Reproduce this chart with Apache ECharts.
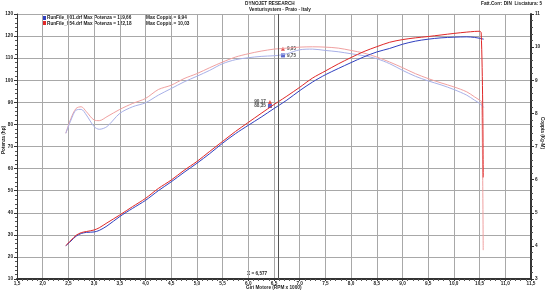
<!DOCTYPE html>
<html><head><meta charset="utf-8">
<script src="https://cdn.jsdelivr.net/npm/echarts@6/dist/echarts.min.js"></script>
<style>html,body{margin:0;padding:0;background:#fff}#c{width:546px;height:291px}</style>
</head><body><div id="c"></div>
<script>
// RPM x 1000 (shared sampling)
const rpm = [2.45,2.55,2.65,2.75,2.85,3.0,3.1,3.25,3.5,3.75,4.0,4.25,4.5,4.75,5.0,5.25,5.5,5.75,6.0,6.25,6.5,6.577,6.75,7.0,7.25,7.5,7.75,8.0,8.25,8.5,8.75,9.0,9.25,9.5,9.75,10.0,10.25,10.4,10.5];
// RunFile_054 (red)
const powerRed  = [25.2,27.5,29.8,31.0,31.5,32.2,33.2,35.4,39.0,42.8,46.5,51.0,54.8,59.2,63.2,67.8,72.3,76.8,80.9,85.0,89.0,90.17,92.8,96.8,101.0,104.2,107.4,110.3,113.0,115.2,117.2,118.4,119.2,119.8,120.5,121.2,121.8,122.1,122.18];
const torqueRed = [7.40,7.85,8.15,8.20,8.05,7.80,7.78,7.90,8.12,8.30,8.45,8.72,8.85,9.05,9.20,9.38,9.55,9.70,9.80,9.88,9.94,9.95,9.97,10.00,10.01,10.00,9.97,9.90,9.82,9.70,9.55,9.38,9.20,9.05,8.92,8.80,8.65,8.50,8.40];
const powerRedTailRpm  = [10.53,10.56,10.57];
const powerRedTail     = [121.6,90,56];
const torqueRedTailRpm = [10.54,10.57];
const torqueRedTail    = [8.35,3.87];
// RunFile_001 (blue)
const powerBlue  = [25.0,27.2,29.4,30.6,31.1,31.3,32.0,34.0,38.3,42.0,45.6,50.0,54.0,58.3,62.4,66.8,71.5,75.8,79.6,83.3,87.2,88.35,91.0,95.3,99.2,102.5,105.3,108.0,110.6,112.8,114.4,116.3,117.7,118.6,119.2,119.5,119.66,119.4,119.0];
const torqueBlue = [7.40,7.80,8.10,8.12,7.95,7.60,7.52,7.60,8.00,8.20,8.32,8.55,8.75,8.95,9.12,9.30,9.50,9.62,9.68,9.72,9.74,9.75,9.80,9.92,9.94,9.90,9.86,9.80,9.74,9.65,9.50,9.30,9.12,8.98,8.86,8.72,8.55,8.40,8.30];
const blueTailRpm = [10.58];
const powerBlueTail = [118.6];
const torqueBlueTail = [8.18];
// cursor
const cursorRpm = 6.577;
const cursorPower = [90.17, 88.35];
const cursorTorque = [9.95, 9.75];
// axis ticks
const xTicks = {min:1.5, max:11.5, step:0.5};
const hpTicks = {min:10, max:130, step:10};
const kgmTicks = {min:3, max:11, step:1};

const RED='#e02828', BLUE='#3040c0', RED_L='#f0a0a0', BLUE_L='#a8b0e8';
const FONT='Liberation Sans';
const FS=4.7;
const F='bold '+FS+'px "Liberation Sans"';
const pairs=(xs,ys)=>xs.map((x,i)=>[x,ys[i]]);
const comma=(v,d)=>v.toFixed(d).replace('.',',');

const chart = echarts.init(document.getElementById('c'), null, {renderer:'canvas'});
const lbl = {fontFamily:FONT, fontSize:FS, fontWeight:'bold', color:'#222'};
const ptLabel = pos => ({show:true, position:pos, distance:2, formatter:p=>comma(p.value[1],2), fontFamily:FONT, fontSize:FS, fontWeight:'bold', color:'#222'});
chart.setOption({
  animation:false,
  backgroundColor:'#fff',
  grid:{left:17, right:15, top:14, bottom:12},
  xAxis:{type:'value', min:xTicks.min, max:xTicks.max, interval:xTicks.step,
    axisLine:{lineStyle:{color:'#333', width:2}},
    axisTick:{show:true, length:2, lineStyle:{color:'#333'}},
    minorTick:{show:true, splitNumber:5, length:2, lineStyle:{color:'#555'}},
    splitLine:{show:true, lineStyle:{color:'#a8a8a8', width:1}},
    axisLabel:Object.assign({margin:2, formatter:v=>comma(v,1), showMaxLabel:true, showMinLabel:true}, lbl)
  },
  yAxis:[
    {type:'value', min:hpTicks.min, max:hpTicks.max, interval:hpTicks.step,
     axisLine:{show:true, lineStyle:{color:'#333', width:1}},
     axisTick:{show:true, length:3, lineStyle:{color:'#333'}},
     minorTick:{show:true, splitNumber:5, length:2, lineStyle:{color:'#555'}},
     splitLine:{show:true, lineStyle:{color:'#a8a8a8', width:1}},
     axisLabel:Object.assign({margin:4}, lbl)},
    {type:'value', min:kgmTicks.min, max:kgmTicks.max, interval:kgmTicks.step, position:'right',
     axisLine:{show:true, lineStyle:{color:'#333', width:2}},
     axisTick:{show:true, length:3, lineStyle:{color:'#333'}},
     minorTick:{show:true, splitNumber:5, length:2, lineStyle:{color:'#555'}},
     splitLine:{show:false},
     axisLabel:Object.assign({margin:4}, lbl)}
  ],
  series:[
    {type:'line', name:'torque054', yAxisIndex:1, symbol:'none', smooth:0.3, lineStyle:{color:RED_L, width:1},
     data:pairs(rpm,torqueRed).concat(pairs(torqueRedTailRpm,torqueRedTail))},
    {type:'line', name:'torque001', yAxisIndex:1, symbol:'none', smooth:0.3, lineStyle:{color:BLUE_L, width:1},
     data:pairs(rpm,torqueBlue).concat(pairs(blueTailRpm,torqueBlueTail))},
    {type:'line', name:'power001', symbol:'none', smooth:0.3, lineStyle:{color:BLUE, width:1},
     data:pairs(rpm,powerBlue).concat(pairs(blueTailRpm,powerBlueTail))},
    {type:'line', name:'power054', symbol:'none', smooth:0.3, lineStyle:{color:RED, width:1},
     data:pairs(rpm,powerRed).concat(pairs(powerRedTailRpm,powerRedTail)),
     markLine:{silent:true, symbol:'none', label:{show:false}, lineStyle:{color:'#555', width:1, type:'solid'},
       data:[{xAxis:cursorRpm}]}},
    {type:'scatter', symbol:'triangle', symbolSize:4, symbolOffset:[-8,0], itemStyle:{color:RED},
     data:[[cursorRpm,cursorPower[0]]], label:ptLabel('left')},
    {type:'scatter', symbol:'rect', symbolSize:4, symbolOffset:[-8,0], itemStyle:{color:BLUE},
     data:[[cursorRpm,cursorPower[1]]], label:ptLabel('left')},
    {type:'scatter', yAxisIndex:1, symbol:'triangle', symbolSize:4, symbolOffset:[5,0], itemStyle:{color:RED},
     data:[[cursorRpm,cursorTorque[0]]], label:ptLabel('right')},
    {type:'scatter', yAxisIndex:1, symbol:'rect', symbolSize:4, symbolOffset:[5,0], itemStyle:{color:BLUE},
     data:[[cursorRpm,cursorTorque[1]]], label:ptLabel('right')}
  ],
  graphic:[
    {type:'text', left:245, top:1.5, style:{text:'DYNOJET RESEARCH', font:F, fill:'#222'}},
    {type:'text', left:249, top:7.5, style:{text:'Venturisystem - Prato - Italy', font:F, fill:'#222'}},
    {type:'text', right:4, top:1.5, style:{text:'Fatt.Corr: DIN  Lisciatura: 5', font:F, fill:'#222'}},
    {type:'rect', shape:{x:43, y:16, width:3, height:4}, style:{fill:BLUE}},
    {type:'rect', shape:{x:43, y:21, width:3, height:4}, style:{fill:RED}},
    {type:'text', left:47, top:15.5, style:{text:'RunFile_001.drf Max Potenza = 119,66', font:F, fill:'#222'}},
    {type:'text', left:146, top:15.5, style:{text:'Max Coppia = 9,94', font:F, fill:'#222'}},
    {type:'text', left:47, top:21, style:{text:'RunFile_054.drf Max Potenza = 122,18', font:F, fill:'#222'}},
    {type:'text', left:146, top:21, style:{text:'Max Coppia = 10,03', font:F, fill:'#222'}},
    {type:'text', left:247, top:271, style:{text:'X = 6,577', font:F, fill:'#222'}},
    {type:'text', left:246, top:285, style:{text:'Giri Motore (RPM x 1000)', font:F, fill:'#222'}},
    {type:'text', x:4, y:140, rotation:Math.PI/2, style:{text:'Potenza (hp)', font:F, fill:'#222', align:'center', verticalAlign:'middle'}},
    {type:'text', x:542, y:133, rotation:-Math.PI/2, style:{text:'Coppia (Kg-M)', font:F, fill:'#222', align:'center', verticalAlign:'middle'}}
  ]
});
</script></body></html>
